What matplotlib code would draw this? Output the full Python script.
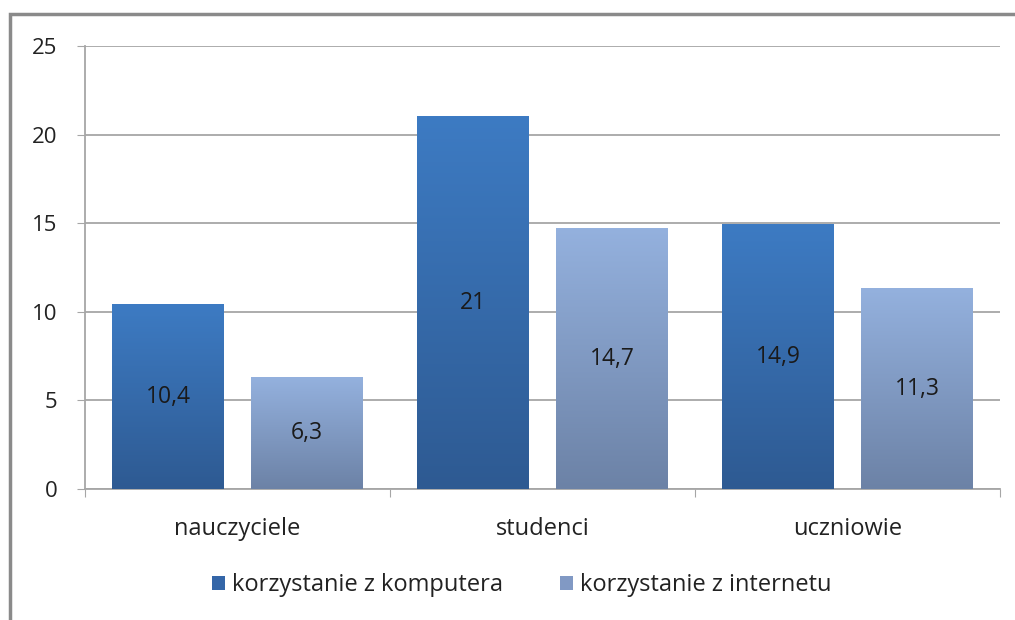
import numpy as np
import matplotlib
matplotlib.use('Agg')
import matplotlib.pyplot as plt
from matplotlib.colors import LinearSegmentedColormap
from matplotlib.patches import Rectangle

categories = ['nauczyciele', 'studenci', 'uczniowie']
komputer = [10.4, 21, 14.9]
internet = [6.3, 14.7, 11.3]
series_names = ['korzystanie z komputera', 'korzystanie z internetu']
yticks = [0, 5, 10, 15, 20, 25]

plt.rcParams['font.family'] = ['Open Sans', 'DejaVu Sans']

W, H = 1015, 620
fig = plt.figure(figsize=(W / 100, H / 100), dpi=100)
ax = fig.add_axes([85 / W, (H - 489) / H, 915 / W, 443 / H])

# outer chart frame
fig.patches.append(Rectangle((10 / W, -0.1), 1.2, (H - 14) / H + 0.1, transform=fig.transFigure,
                             fill=False, edgecolor='#8a8a8a', linewidth=2.5, zorder=0))

# gradients (top -> bottom)
cm_dark = LinearSegmentedColormap.from_list('d', ['#2e5a92', '#3d7bc3'])
cm_light = LinearSegmentedColormap.from_list('l', ['#6c82a6', '#94b1de'])

bw = 0.367
gap = 0.089
x = np.arange(len(categories))
grad = np.linspace(0, 1, 256).reshape(-1, 1)

def draw_bars(xs, vals, cmap, label, legend_color):
    for xc, v in zip(xs, vals):
        ax.imshow(grad, extent=(xc - bw / 2, xc + bw / 2, 0, v), origin='lower',
                  aspect='auto', cmap=cmap, zorder=3)
        ax.text(xc, v / 2, ('%g' % v).replace('.', ','), ha='center', va='center',
                fontsize=16.5, color='#1a1a1a', zorder=4)
    ax.bar([xs[0]], [0], width=bw, color=legend_color, label=label)

draw_bars(x - (bw + gap) / 2, komputer, cm_dark, series_names[0], '#3466a8')
draw_bars(x + (bw + gap) / 2, internet, cm_light, series_names[1], '#8199c4')

ax.set_xlim(-0.5, len(categories) - 0.5)
ax.set_ylim(0, 25)
ax.set_yticks(yticks)
ax.set_yticklabels([str(t) for t in yticks], fontsize=16, color='#222222')
ax.yaxis.grid(True, color='#a6a6a6', linewidth=1.3, zorder=0)
ax.set_axisbelow(True)

ax.set_xticks(np.arange(len(categories) + 1) - 0.5)
ax.set_xticklabels([])
ax.set_xticks(x, minor=True)
ax.set_xticklabels(categories, minor=True, fontsize=17, color='#222222')
ax.tick_params(axis='x', which='minor', length=0, pad=20)
ax.tick_params(axis='x', which='major', length=6, color='#a6a6a6', direction='out')
ax.tick_params(axis='y', length=6, color='#a6a6a6', pad=14)

for s in ['top', 'right']:
    ax.spines[s].set_visible(False)
for s in ['left', 'bottom']:
    ax.spines[s].set_color('#a6a6a6')
    ax.spines[s].set_linewidth(1.3)

leg = fig.legend(loc='center', bbox_to_anchor=(522 / W, (H - 585) / H), ncol=2, frameon=False,
                 fontsize=17, handlelength=0.55, handleheight=0.55, handletextpad=0.3,
                 columnspacing=2.4)
for t in leg.get_texts():
    t.set_color('#222222')

fig.savefig('out.png', dpi=100)
